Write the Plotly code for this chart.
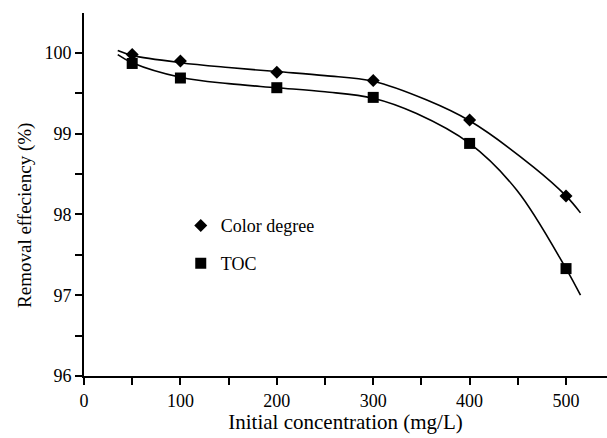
import plotly.graph_objects as go

# measured points
conc = [50, 100, 200, 300, 400, 500]
color_degree = [99.98, 99.90, 99.76, 99.66, 99.17, 98.23]
toc = [99.87, 99.69, 99.57, 99.45, 98.88, 97.33]

# fitted curves
fit_x = [35, 50, 100, 150, 200, 250, 300, 355, 400, 466, 500, 515]
fit_color = [100.03, 99.97, 99.88, 99.82, 99.77, 99.72, 99.65, 99.42, 99.16, 98.59, 98.23, 98.02]
fit_x2 = [35, 50, 100, 150, 200, 250, 300, 345, 400, 449, 500, 515]
fit_toc = [99.98, 99.88, 99.70, 99.62, 99.57, 99.52, 99.44, 99.25, 98.88, 98.30, 97.33, 97.00]

xticks = [0, 100, 200, 300, 400, 500]
yticks = [96, 97, 98, 99, 100]

FONT = "Liberation Serif, Times New Roman, serif"

fig = go.Figure()
fig.add_trace(go.Scatter(x=fit_x, y=fit_color, mode="lines", line=dict(color="black", width=1.6, shape="spline"),
                         showlegend=False, hoverinfo="skip"))
fig.add_trace(go.Scatter(x=fit_x2, y=fit_toc, mode="lines", line=dict(color="black", width=1.6, shape="spline"),
                         showlegend=False, hoverinfo="skip"))
fig.add_trace(go.Scatter(x=conc, y=color_degree, mode="markers", name="Color degree", legend="legend",
                         marker=dict(symbol="diamond", size=10, color="black")))
fig.add_trace(go.Scatter(x=conc, y=toc, mode="markers", name="TOC", legend="legend2",
                         marker=dict(symbol="square", size=11, color="black")))

leg_common = dict(xanchor="left", yanchor="middle", bgcolor="rgba(0,0,0,0)",
                  font=dict(family=FONT, size=18, color="black"), itemwidth=30)

fig.update_layout(
    width=607, height=438,
    margin=dict(l=84, r=0, t=13, b=62),
    paper_bgcolor="white", plot_bgcolor="white",
    font=dict(family=FONT, size=18, color="black"),
    legend=dict(x=0.185, y=0.414, **leg_common),
    legend2=dict(x=0.185, y=0.310, **leg_common),
    showlegend=True,
    annotations=[dict(text="Removal effeciency (%)", textangle=-90, xref="paper", yref="paper",
                      x=(25 - 84) / 523, y=0.441, xanchor="center", yanchor="middle",
                      showarrow=False, font=dict(family=FONT, size=19, color="black"))],
)
fig.update_xaxes(range=[0, 542.5], tickvals=xticks, ticktext=[str(v) for v in xticks],
                 ticks="outside", ticklen=7, tickwidth=1.6, tickcolor="black",
                 minor=dict(tickvals=[50, 150, 250, 350, 450], ticks="outside", ticklen=7, tickwidth=1.6, tickcolor="black"),
                 showline=True, linecolor="black", linewidth=1.8, showgrid=False, zeroline=False,
                 tickfont=dict(size=18),
                 title=dict(text="Initial concentration (mg/L)", font=dict(size=21), standoff=4))
fig.update_yaxes(range=[96, 100.495], tickvals=yticks, ticktext=[str(v) for v in yticks],
                 ticks="outside", ticklen=7, tickwidth=1.6, tickcolor="black",
                 minor=dict(tickvals=[96.5, 97.5, 98.5, 99.5], ticks="outside", ticklen=7, tickwidth=1.6, tickcolor="black"),
                 showline=True, linecolor="black", linewidth=1.8, showgrid=False, zeroline=False,
                 tickfont=dict(size=18))

fig.write_html("out.html")
